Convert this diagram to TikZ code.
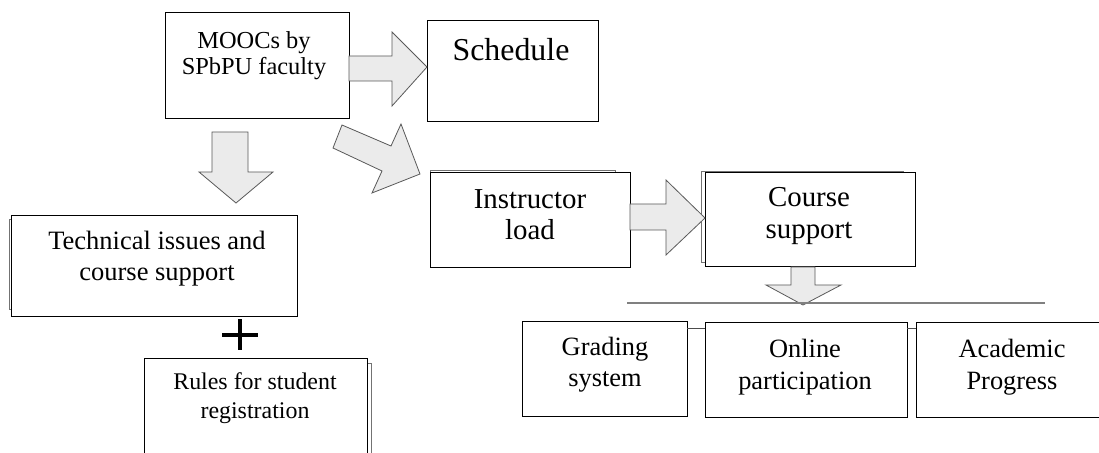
\documentclass[tikz,border=0pt]{standalone}
\usepackage{fontspec}
\setmainfont{Liberation Serif}
\begin{document}
\begin{tikzpicture}[x=1bp,y=-1bp,
  box/.style={draw=black,fill=white,line width=1bp,inner sep=0pt,outer sep=0pt},
  shadowbox/.style={draw=black!55,line width=0.9bp},
  txt/.style={anchor=north,align=center,inner sep=0pt,text=black},
  blockarrow/.style={draw=black!65,fill=black!8,line width=0.8bp,line join=miter},
  conn/.style={draw=black!70,line width=1bp}]
\useasboundingbox (0,0) rectangle (1099,453);
\begin{scope}
\clip (0,0) rectangle (1099,453);
% shadows
\draw[shadowbox] (9,219) rectangle (291,309);
\draw[shadowbox] (148,363) rectangle (371,480);
\draw[shadowbox] (430,170) rectangle (615,260);
\draw[shadowbox] (701.5,171) rectangle (903,262);
% boxes
\node[box,minimum width=184bp,minimum height=106bp] (moocs) at (257,66) {};
\node[box,minimum width=171bp,minimum height=101bp] (sched) at (512.5,71.5) {};
\node[box,minimum width=285bp,minimum height=101bp] (tech) at (154.5,266.5) {};
\node[box,minimum width=223bp,minimum height=116bp] (rules) at (255.5,417) {};
\node[box,minimum width=200bp,minimum height=95bp] (instr) at (530,220.5) {};
\node[box,minimum width=210bp,minimum height=94bp] (course) at (810,220) {};
\node[box,minimum width=165bp,minimum height=95bp] (grad) at (604.5,369.5) {};
\node[box,minimum width=202bp,minimum height=95bp] (online) at (806,370.5) {};
\node[box,minimum width=194bp,minimum height=95bp] (acad) at (1013,370.5) {};
% texts
\node[txt,font={\fontsize{24.5}{26}\selectfont}] (moocs-t) at (254,31) {MOOCs by\\SPbPU faculty};
\node[txt,font={\fontsize{32}{36}\selectfont}] (sched-t) at (511,38) {Schedule};
\node[txt,font={\fontsize{26.6}{31}\selectfont}] (tech-t) at (157,231) {Technical issues and\\course support};
\node[txt,font={\fontsize{24}{30}\selectfont}] (rules-t) at (255,372) {Rules for student\\registration};
\node[txt,font={\fontsize{29}{32}\selectfont}] (instr-t) at (530,189) {Instructor\\load};
\node[txt,font={\fontsize{29}{32}\selectfont}] (course-t) at (809,187) {Course\\support};
\node[txt,font={\fontsize{26.5}{31}\selectfont}] (grad-t) at (605,337) {Grading\\system};
\node[txt,font={\fontsize{26.5}{32}\selectfont}] (online-t) at (805,339) {Online\\participation};
\node[txt,font={\fontsize{26.5}{32}\selectfont}] (acad-t) at (1012,339) {Academic\\Progress};
% block arrows
\draw[blockarrow] (moocs.east |- 0,56) -- (392,56) -- (392,32) -- (sched.west |- 0,67) -- (392,106) -- (392,81) -- (moocs.east |- 0,81) -- cycle;
\draw[blockarrow] (212,132) -- (248,132) -- (248,172) -- (273,172) -- (236,203) -- (199,172) -- (212,172) -- cycle;
\draw[blockarrow] (342,125) -- (391,146) -- (401,124) -- (420,174) -- (372,193) -- (382,171) -- (333,148) -- cycle;
\draw[blockarrow] (instr.east |- 0,204) -- (666,204) -- (666,180) -- (course.west |- 0,218) -- (666,255) -- (666,230) -- (instr.east |- 0,230) -- cycle;
\draw[blockarrow] (791,267) -- (815,267) -- (815,285) -- (841,285) -- (803,305) -- (766,285) -- (791,285) -- cycle;
% horizontal gray line
\coordinate (hl) at (627,303);
\coordinate (hr) at (1045,303);
\draw[draw=black!50,line width=1.6bp] (hl) -- (hr);
% connectors between bottom boxes
\draw[conn] (grad.east |- 0,329) -- (online.west |- 0,329);
\draw[conn] (online.east |- 0,329) -- (acad.west |- 0,329);
% plus sign
\coordinate (plus) at (240,335);
\draw[line width=3.5bp] ([xshift=-18bp]plus) -- ([xshift=18bp]plus);
\draw[line width=3.5bp] ([yshift=-15bp]plus) -- ([yshift=16bp]plus);
\end{scope}
\end{tikzpicture}
\end{document}
